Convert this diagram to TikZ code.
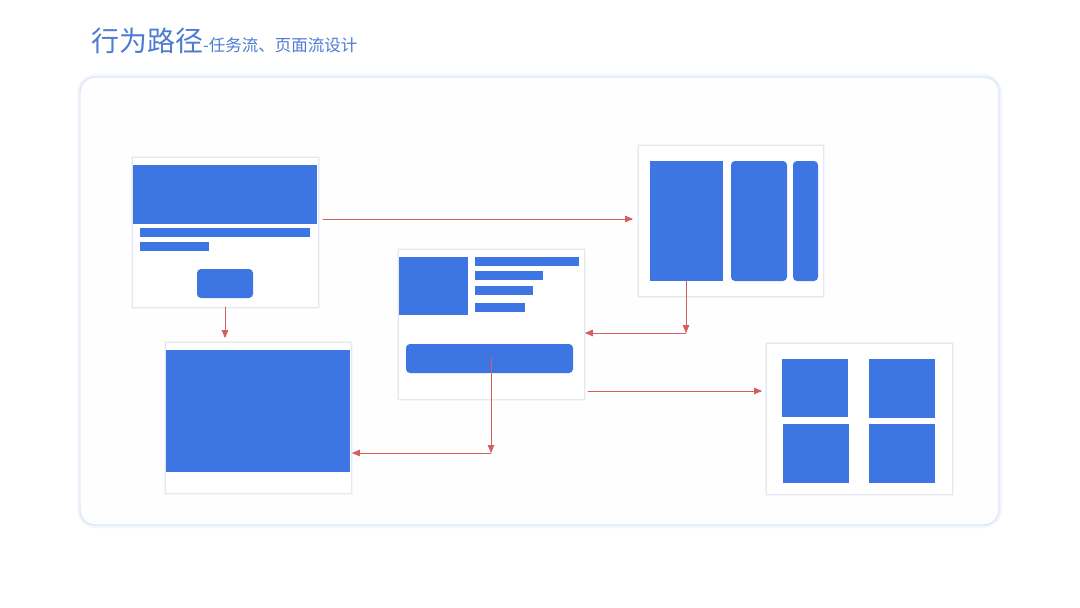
\documentclass[tikz,border=0pt]{standalone}
\usepackage{fontspec}
\setmainfont{Noto Sans CJK SC}
\usetikzlibrary{arrows}
\definecolor{blockblue}{RGB}{61,118,226}
\definecolor{flowred}{RGB}{214,94,94}
\definecolor{cardline}{RGB}{229,232,240}
\definecolor{panelline}{RGB}{222,231,249}
\definecolor{titleblue}{RGB}{78,124,212}
\tikzset{
    card/.style={draw=cardline,fill=white,line width=0.8pt,inner sep=0pt,outer sep=0pt,
        preaction={draw=cardline!45,line width=3pt}},
    block/.style={fill=blockblue,inner sep=0pt,outer sep=0pt},
    rblock/.style={block,rounded corners=4pt},
    flow/.style={->,draw=flowred,line width=0.8pt}
}
\begin{document}
\begin{tikzpicture}[line cap=round,line join=round,>=triangle 45,x=1pt,y=-1pt]
            \useasboundingbox[fill=white] (0,0) rectangle (1080,608);
            \node[anchor=base west,text=titleblue,inner sep=0pt] (title) at (91,51) {\fontsize{28}{28}\selectfont 行为路径\fontsize{16.5}{16.5}\selectfont -任务流、页面流设计};
            \draw [line width=6pt,color=panelline!35,rounded corners=16pt] (80,77) rectangle (999,525);
            \draw [line width=1.4pt,color=panelline,fill={rgb,255:red,254;green,254;blue,255},rounded corners=15pt] (80,77) rectangle (999,525);
            \node[card,minimum width=186,minimum height=150] (A) at (225,232) {};
            \node[block,minimum width=184,minimum height=59] (a1) at (225,194.5) {};
            \node[block,minimum width=170,minimum height=9] (a2) at (225,232.5) {};
            \node[block,minimum width=69,minimum height=9] (a3) at (174.5,246.5) {};
            \node[rblock,minimum width=56,minimum height=29] (a4) at (225,283.5) {};
            \node[card,minimum width=186,minimum height=151] (B) at (258,417.5) {};
            \node[block,minimum width=184,minimum height=122] (b1) at (258,411) {};
            \node[card,minimum width=186,minimum height=150] (C) at (491,324) {};
            \node[block,minimum width=69,minimum height=58] (c1) at (433.5,286) {};
            \node[block,minimum width=104,minimum height=9] (c2) at (527,261.5) {};
            \node[block,minimum width=68,minimum height=9] (c3) at (509,275.5) {};
            \node[block,minimum width=58,minimum height=9] (c4) at (504,290.5) {};
            \node[block,minimum width=50,minimum height=9] (c5) at (500,307.5) {};
            \node[rblock,minimum width=167,minimum height=29] (c6) at (489.5,358.5) {};
            \node[card,minimum width=185,minimum height=151] (D) at (730.5,220.5) {};
            \node[block,minimum width=73,minimum height=120] (d1) at (686.5,221) {};
            \node[rblock,minimum width=56,minimum height=120] (d2) at (759,221) {};
            \node[rblock,minimum width=25,minimum height=120] (d3) at (805.5,221) {};
            \node[card,minimum width=186,minimum height=151] (E) at (859,418.5) {};
            \node[block,minimum width=66,minimum height=58] (e1) at (815,388) {};
            \node[block,minimum width=66,minimum height=59] (e2) at (902,388.5) {};
            \node[block,minimum width=66,minimum height=59] (e3) at (816,453.5) {};
            \node[block,minimum width=66,minimum height=59] (e4) at (902,453.5) {};
            \coordinate (ad) at ([shift={(6,-5)}]a1.south east);
            \coordinate (k1) at (686,333);
            \coordinate (k2) at (491,453);
            \coordinate (ce) at ([shift={(4,-8)}]C.south east);
            \draw [flow] (ad) -- ([xshift=-5pt]D.west |- ad);
            \draw [flow] (A.south) -- ([yshift=4pt]B.north -| A.south);
            \draw [flow] (d1.south -| k1) -- (k1);
            \draw [flow] (k1) -- ([xshift=1pt]C.east |- k1);
            \draw [flow] (c6.center -| k2) -- (k2);
            \draw [flow] (k2) -- ([xshift=1pt]B.east |- k2);
            \draw [flow] (ce) -- ([xshift=-4pt]E.west |- ce);
\end{tikzpicture}
\end{document}
